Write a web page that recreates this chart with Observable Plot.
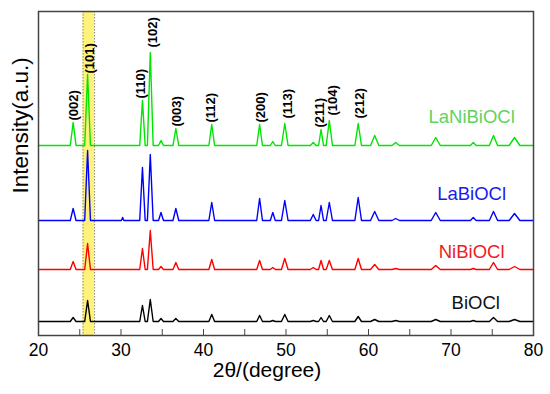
<!DOCTYPE html>
<html>
<head>
<meta charset="utf-8">
<script src="https://cdn.jsdelivr.net/npm/d3@7"></script>
<script src="https://cdn.jsdelivr.net/npm/@observablehq/plot@0.6"></script>
<style>
  html, body { margin: 0; padding: 0; background: #fff; }
  #chart svg { display: block; font-family: "Liberation Sans", Arial, sans-serif; }
</style>
</head>
<body>
<div id="chart"></div>
<script>
// Peak positions (2θ) shared by all patterns, and half-widths
const peakPos   = [24.2, 25.95, 30.2, 32.6, 33.55, 34.85, 36.65, 41.0, 46.8, 48.4, 49.85, 53.3, 54.25, 55.25, 58.75, 60.75, 63.3, 68.15, 72.7, 75.15, 77.7];
const halfWidth = [0.35, 0.35, 0.15, 0.33, 0.35, 0.3, 0.35, 0.35, 0.35, 0.3, 0.4, 0.35, 0.3, 0.38, 0.4, 0.5, 0.45, 0.55, 0.35, 0.5, 0.65];

// Series names, offsets (baselines) and peak heights (intensity, a.u.)
const seriesNames = ["LaNiBiOCl", "LaBiOCl", "NiBiOCl", "BiOCl"];
const lineColors  = ["#00e600", "#0000ff", "#ff0000", "#000000"];
const textColors  = ["#5fd35f", "#1a1aee", "#ee1c1c", "#111111"];
const baselines   = [190, 115, 66, 14];
const hLaNi = [23, 71, 0, 45, 93, 5, 17, 21, 21, 4, 22, 3, 16, 25, 22, 10, 3, 8, 3, 10, 8];
const hLa   = [12, 70, 3, 53, 66, 8, 12, 18, 22, 8, 20, 6, 15, 18, 23, 9, 2, 8, 3, 9, 7];
const hNi   = [8, 26, 0, 21, 39, 3, 7, 10, 9, 2, 11, 2, 9, 9, 11, 5, 1, 4, 1, 7, 3];
const hBi   = [4, 21, 0, 16, 22, 3, 3, 7, 6, 1, 7, 1, 4, 6, 5, 2, 1, 2, 1, 4, 2];
const seriesHeights = [hLaNi, hLa, hNi, hBi];
const nameLabelX = [72.5, 72.5, 72.5, 73];
const nameLabelY = [218, 141, 83, 32];

// Miller index labels
const hkl      = ["(002)", "(101)", "(110)", "(102)", "(003)", "(112)", "(200)", "(113)", "(211)", "(104)", "(212)"];
const hklX     = [24.28, 26.2, 32.4, 33.8, 36.8, 40.9, 47.0, 50.2, 54.1, 55.7, 58.9];
const hklY     = [215, 262, 237, 288, 209, 213, 213, 217, 208, 220, 217];

// Highlight band around (101)
const bandStart = 25.4;
const bandEnd   = 26.8;

// Axis ticks
const xTicks      = [20, 25, 30, 35, 40, 45, 50, 55, 60, 65, 70, 75, 80];
const xTickLabels = [20, 30, 40, 50, 60, 70, 80];

// Build line profiles from the peak table
const lines = [];
seriesNames.forEach((name, s) => {
  const b = baselines[s];
  lines.push({name, x: 20, y: b});
  peakPos.forEach((p, i) => {
    const h = seriesHeights[s][i];
    if (h <= 0) return;
    const w = halfWidth[i];
    lines.push({name, x: p - w, y: b});
    lines.push({name, x: p, y: b + h});
    lines.push({name, x: p + w, y: b});
  });
  lines.push({name, x: 80, y: b});
});
const nameLabels = seriesNames.map((name, s) => ({name, x: nameLabelX[s], y: nameLabelY[s], color: textColors[s]}));
const hklLabels = hkl.map((t, i) => ({t, x: hklX[i], y: hklY[i]}));

const chart = Plot.plot({
  width: 550,
  height: 394,
  marginLeft: 38,
  marginRight: 17,
  marginTop: 11,
  marginBottom: 59,
  style: {fontFamily: "'Liberation Sans', Arial, sans-serif", background: "#fff"},
  x: {domain: [20, 80]},
  y: {domain: [0, 324], axis: null},
  color: {domain: seriesNames, range: lineColors},
  marks: [
    Plot.rectX([0], {x1: () => bandStart, x2: () => bandEnd, fill: "#fff27a"}),
    Plot.ruleX([bandStart, bandEnd], {x: d => d, stroke: "#8a8a6a", strokeDasharray: "1.5,1.5", strokeWidth: 1}),
    Plot.line(lines, {x: "x", y: "y", z: "name", stroke: "name", strokeWidth: 1.4}),
    Plot.text(hklLabels, {x: "x", y: "y", text: "t", rotate: -90, textAnchor: "start", fontSize: 13, fontWeight: "bold", fill: "#000"}),
    Plot.text(nameLabels, {x: "x", y: "y", text: "name", fill: "color", fontSize: 18.5, textAnchor: "middle"}),
    Plot.ruleX(xTicks, {x: d => d, y1: 0, y2: 6, stroke: "#444", strokeWidth: 1}),
    Plot.frame({stroke: "#444", strokeWidth: 1.5}),
    Plot.axisX({ticks: xTickLabels, tickSize: 0, tickPadding: 8, fontSize: 17.5, label: null, tickFormat: d => String(d), fill: "#000"}),
    Plot.text(["2θ/(degree)"], {frameAnchor: "bottom", dx: -19, dy: 41.5, text: d => d, fontSize: 21, fill: "#000"}),
    Plot.text(["Intensity(a.u.)"], {frameAnchor: "left", dx: -18, dy: 20, rotate: -90, text: d => d, fontSize: 22.5, fill: "#000"})
  ]
});
document.getElementById("chart").appendChild(chart);
</script>
</body>
</html>
